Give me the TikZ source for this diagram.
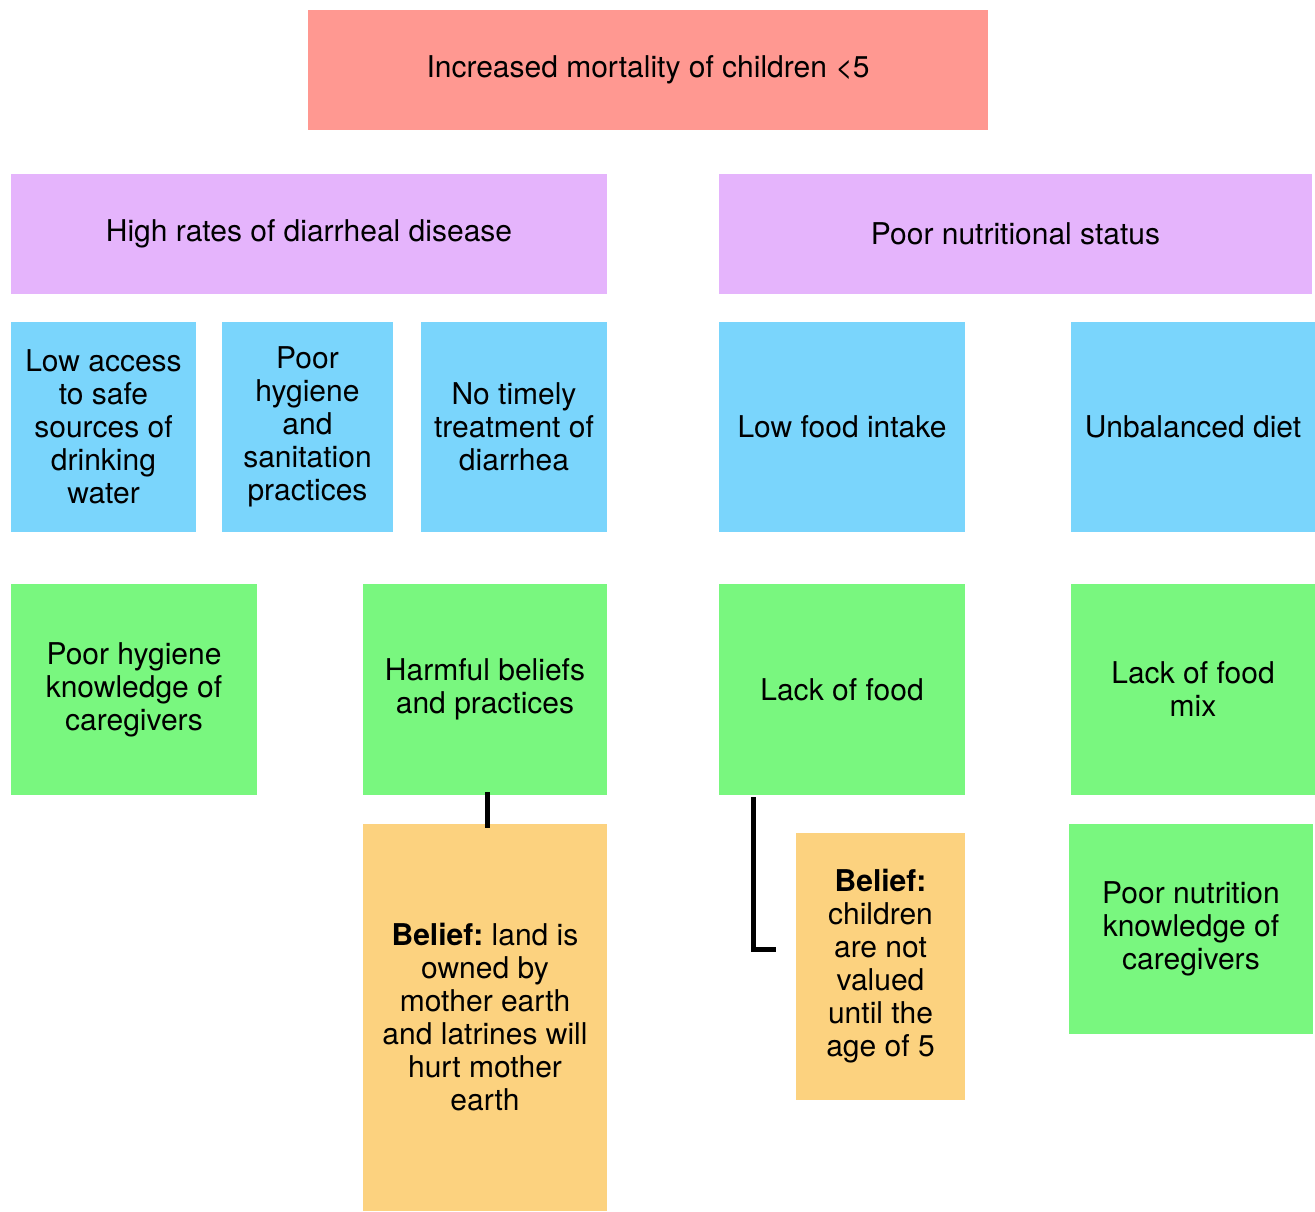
\documentclass[tikz,border=0pt]{standalone}
\usepackage{fontspec}
\setmainfont{TeX Gyre Heros}
\usepackage{tikz}
\usepackage{xcolor}
\usetikzlibrary{calc, positioning}
\definecolor{problem}{HTML}{FF9891}
\definecolor{effect}{HTML}{E5B4FC}
\definecolor{cause}{HTML}{7AD5FC}
\definecolor{root}{HTML}{79F77F}
\definecolor{belief}{HTML}{FCD27F}
\tikzset{
    card/.style={rectangle, inner sep=0pt, align=center, anchor=center,
        font=\fontsize{30}{33}\selectfont},
    link/.style={draw=black, line width=4.8pt}
}
\newcommand{\sticky}[7]{
    \node[card, fill=#2, minimum width={(#5-#3)*1pt}, minimum height={(#6-#4)*1pt}] (#1) at ({(#3+#5)/2}, {(#4+#6)/2}) {#7};
}

\begin{document}
\begin{tikzpicture}[x=1pt, y=-1pt]
    \useasboundingbox (0,0) rectangle (1315,1211);
    \sticky{top}{problem}{308}{10}{988}{130}{Increased mortality of children <5}
    \sticky{diarrhea}{effect}{11}{174}{607}{294}{High rates of diarrheal disease}
    \sticky{nutrition}{effect}{719}{174}{1312}{294}{Poor nutritional status}
    \sticky{water}{cause}{11}{322}{196}{532}{Low access\\to safe\\sources of\\drinking\\water}
    \sticky{hygiene}{cause}{222}{322}{393}{532}{Poor\\hygiene\\and\\sanitation\\practices}
    \sticky{treatment}{cause}{421}{322}{607}{532}{No timely\\treatment of\\diarrhea}
    \sticky{intake}{cause}{719}{322}{965}{532}{Low food intake}
    \sticky{diet}{cause}{1071}{322}{1315}{532}{Unbalanced diet}
    \sticky{knowhyg}{root}{11}{584}{257}{795}{Poor hygiene\\knowledge of\\caregivers}
    \sticky{harmful}{root}{363}{584}{607}{795}{Harmful beliefs\\and practices}
    \sticky{lackfood}{root}{719}{584}{965}{795}{Lack of food}
    \sticky{foodmix}{root}{1071}{584}{1315}{795}{Lack of food\\mix}
    \sticky{landbelief}{belief}{363}{824}{607}{1211}{\textbf{Belief:}~land is\\owned by\\mother earth\\and latrines will\\hurt mother\\earth}
    \sticky{childbelief}{belief}{796}{833}{965}{1100}{\textbf{Belief:}\\children\\are not\\valued\\until the\\age of 5}
    \sticky{knownut}{root}{1069}{824}{1313}{1034}{Poor nutrition\\knowledge of\\caregivers}
    % connectors
    \coordinate (beliefend) at (776,949.5);
    \draw[link] ([xshift=2.5pt, yshift=3pt]harmful.south) -- ([xshift=2.5pt, yshift=-4pt]landbelief.north);
    \draw[link] ([xshift=34.5pt, yshift=-2pt]lackfood.south west) |- (beliefend);
\end{tikzpicture}
\end{document}
